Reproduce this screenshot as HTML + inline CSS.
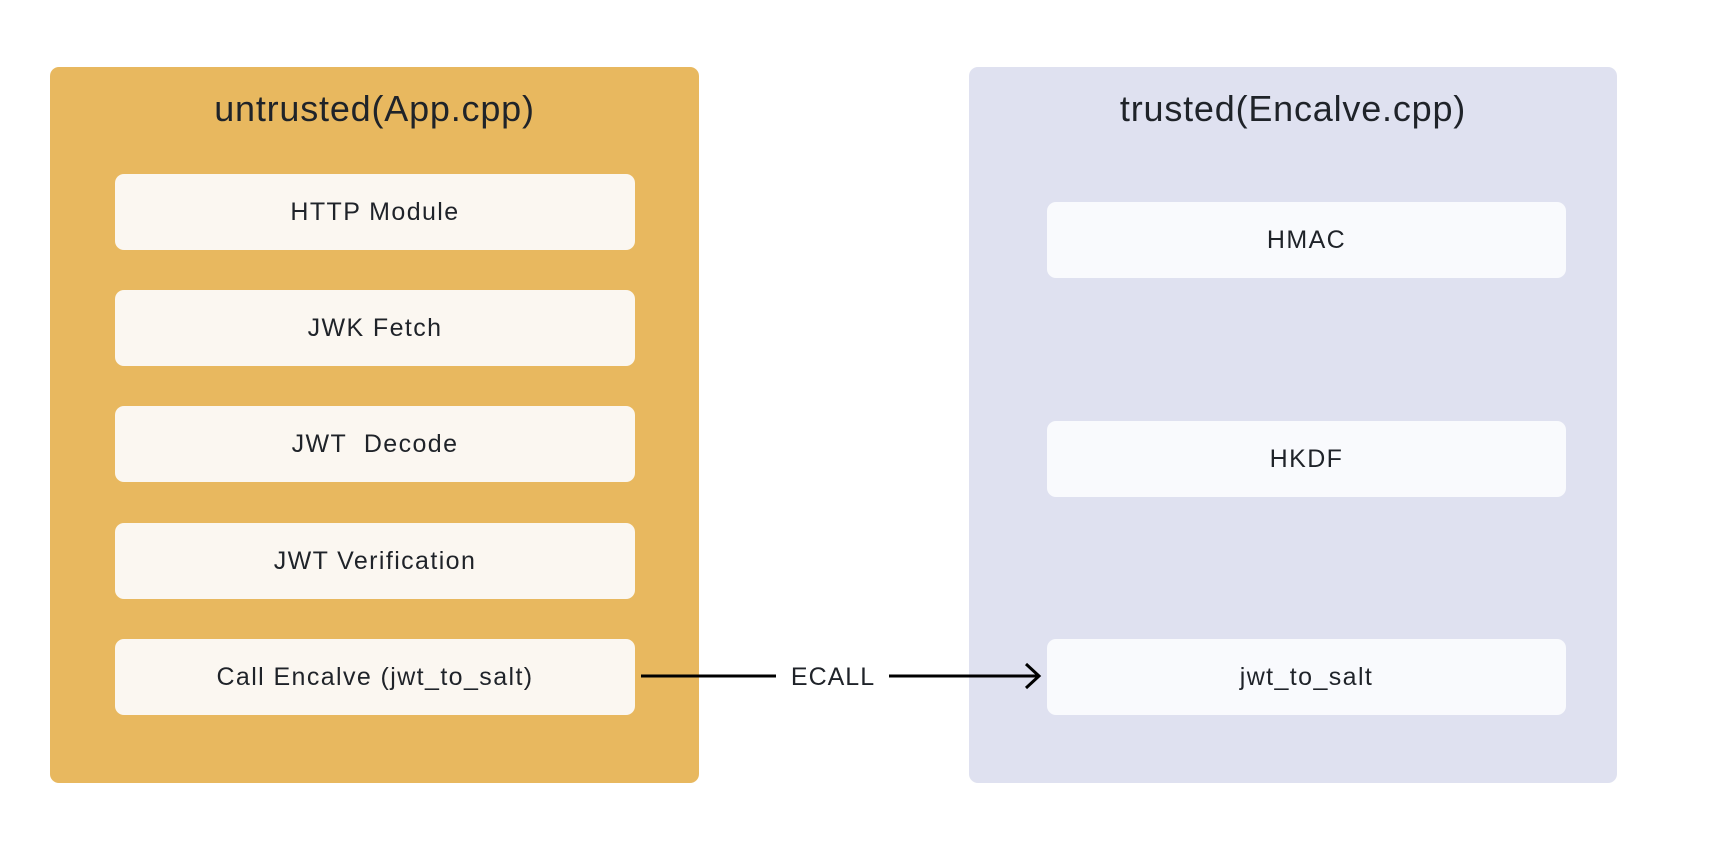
<!DOCTYPE html>
<html><head><style>
body{margin:0;width:1714px;height:844px;background:#fff;position:relative;overflow:hidden;font-family:"Liberation Sans",sans-serif;}
.p{position:absolute;border-radius:9px;}
.b{position:absolute;border-radius:9px;display:flex;align-items:center;justify-content:center;font-size:25px;letter-spacing:1.4px;color:#1f2329;}
.t{position:absolute;font-size:36px;letter-spacing:0.8px;color:#1f2329;text-align:center;}
</style></head><body>
<div class="p" style="left:50px;top:67px;width:649px;height:716px;background:#e8b85f"></div>
<div class="p" style="left:969px;top:67px;width:648px;height:716px;background:#dfe1f0"></div>
<div class="t" style="left:50px;top:88px;width:649px;">untrusted(App.cpp)</div>
<div class="t" style="left:969px;top:88px;width:648px;">trusted(Encalve.cpp)</div>
<div class="b" style="left:115px;top:174px;width:520px;height:76px;background:#fbf7f1">HTTP Module</div>
<div class="b" style="left:115px;top:290px;width:520px;height:76px;background:#fbf7f1">JWK Fetch</div>
<div class="b" style="left:115px;top:406px;width:520px;height:76px;background:#fbf7f1">JWT&nbsp; Decode</div>
<div class="b" style="left:115px;top:523px;width:520px;height:76px;background:#fbf7f1">JWT Verification</div>
<div class="b" style="left:115px;top:639px;width:520px;height:76px;background:#fbf7f1">Call Encalve (jwt_to_salt)</div>
<div class="b" style="left:1047px;top:202px;width:519px;height:76px;background:#f9fafd">HMAC</div>
<div class="b" style="left:1047px;top:421px;width:519px;height:76px;background:#f9fafd">HKDF</div>
<div class="b" style="left:1047px;top:639px;width:519px;height:76px;background:#f9fafd">jwt_to_salt</div>
<svg style="position:absolute;left:0;top:0" width="1714" height="844">
<line x1="641" y1="676" x2="776" y2="676" stroke="#000" stroke-width="3"/>
<line x1="889" y1="676" x2="1038" y2="676" stroke="#000" stroke-width="3"/>
<polyline points="1026,664 1039,676 1026,688" fill="none" stroke="#000" stroke-width="3"/>
<text x="833" y="685" font-family="Liberation Sans" font-size="25" letter-spacing="1" fill="#1f2329" text-anchor="middle">ECALL</text>
</svg>
</body></html>
